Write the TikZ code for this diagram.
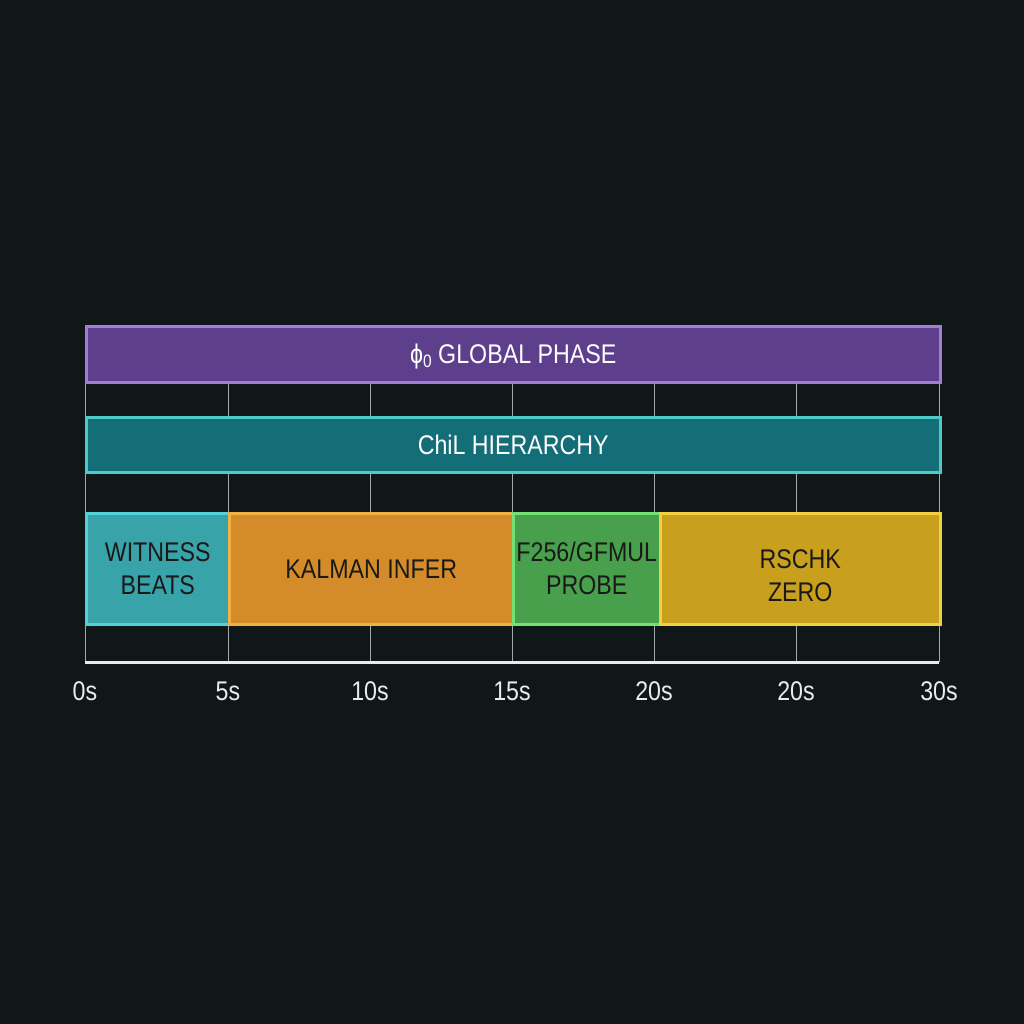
\documentclass[tikz,border=0pt]{standalone}
\usepackage{fontspec}
\setmainfont[FakeStretch=0.86]{Liberation Sans}
\begin{document}
\begin{tikzpicture}[x=1pt,y=-1pt,
  bar/.style={draw, line width=2.5pt, inner sep=0pt},
  lbl/.style={font=\fontsize{27}{33}\selectfont},
  grid/.style={draw=gray!70, line width=0.6pt},
  tick/.style={font=\fontsize{27}{30}\selectfont, text=white!92!black}]
\definecolor{bg}{HTML}{0F1719}
\definecolor{pfill}{HTML}{5E3F8C}\definecolor{pline}{HTML}{A47CD6}
\definecolor{tfill}{HTML}{136E78}\definecolor{tline}{HTML}{4EC9CA}
\definecolor{wfill}{HTML}{39A3AA}\definecolor{wline}{HTML}{52D2D8}
\definecolor{kfill}{HTML}{D48C2A}\definecolor{kline}{HTML}{F2B242}
\definecolor{gfill}{HTML}{48A04C}\definecolor{gline}{HTML}{72E272}
\definecolor{rfill}{HTML}{C9A01E}\definecolor{rline}{HTML}{F2D040}
\fill[bg] (0,0) rectangle (1024,1024);
\useasboundingbox (0,0) rectangle (1024,1024);
% grid lines
\foreach \x in {85,228,370,512,654,796,939}{
  \draw[grid] (\x,381) -- (\x,662);
}
% global bars
\node[bar, draw=pline, fill=pfill, minimum width=854pt, minimum height=56pt, anchor=north west] (glob) at (85,325) {};
\node[lbl, text=white] at ([yshift=-2pt]glob.center) {ϕ\raisebox{-0.3ex}{\fontsize{18}{18}\selectfont 0} GLOBAL PHASE};
\node[bar, draw=tline, fill=tfill, minimum width=854pt, minimum height=55pt, anchor=north west] (chil) at (85,416) {};
\node[lbl, text=white] at (chil.center) {ChiL HIERARCHY};
% phase blocks
\node[bar, draw=wline, fill=wfill, minimum width=143pt, minimum height=111pt, anchor=north west, align=center, lbl, text=black!90] (wit) at (85,512) {WITNESS\\BEATS};
\node[bar, draw=kline, fill=kfill, minimum width=284pt, minimum height=111pt, anchor=north west, align=center, lbl, text=black!90] (kal) at (228,512) {KALMAN INFER};
\node[bar, draw=gline, fill=gfill, minimum width=147pt, minimum height=111pt, anchor=north west, align=center, lbl, text=black!90] (gf) at (512,512) {F256/GFMUL\\PROBE};
\node[bar, draw=rline, fill=rfill, minimum width=280pt, minimum height=111pt, anchor=north west] (rs) at (659,512) {};
\node[lbl, align=center, text=black!90] at ([yshift=-7pt]rs.center) {RSCHK\\ZERO};
% axis
\coordinate (a0) at (85,662);
\coordinate (a1) at (939,662);
\draw[white!92!black, line width=3pt] (a0) -- (a1);
\foreach \x/\t [count=\i] in {85/0s,228/5s,370/10s,512/15s,654/20s,796/20s,939/30s}{
  \node[tick] (t\i) at (\x,691) {\t};
}
\end{tikzpicture}
\end{document}
